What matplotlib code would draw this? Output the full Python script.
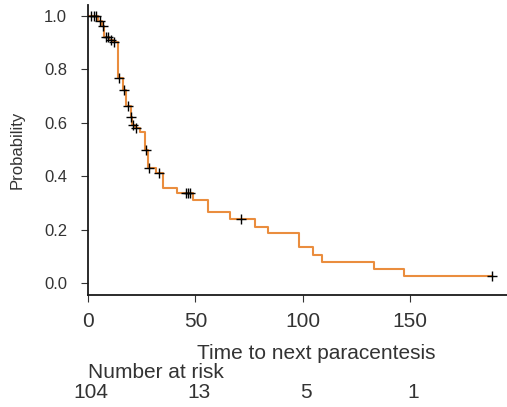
import numpy as np
import matplotlib
matplotlib.use("Agg")
import matplotlib.pyplot as plt
import matplotlib.transforms as mtransforms

plt.rcParams['font.family'] = ['Liberation Sans', 'DejaVu Sans']

# Kaplan-Meier steps (time where the curve drops, level after the drop)
step_times = [0, 4.8, 6.5, 7.6, 10.0, 11.5, 13.9, 16.2, 16.5, 17.9, 19.8, 20.6,
              22.0, 24.4, 26.6, 27.8, 31.7, 34.8, 41.5, 48.8, 55.8, 65.9, 77.9,
              83.7, 98.2, 104.6, 109.0, 132.9, 147.0, 188.1]
surv = [1.0, 0.98, 0.96, 0.92, 0.91, 0.90, 0.767, 0.746, 0.721, 0.662, 0.622, 0.59,
        0.581, 0.565, 0.497, 0.432, 0.413, 0.354, 0.338, 0.311, 0.264, 0.239, 0.211,
        0.186, 0.133, 0.106, 0.080, 0.052, 0.026, 0.026]

# censored observations
cens_t = [1.3, 2.6, 3.8, 5.4, 6.9, 8.3, 9.4, 10.6, 12.3, 14.6, 16.7, 18.6, 20.1,
          20.9, 22.5, 26.9, 28.6, 33.0, 45.7, 46.5, 47.7, 71.0, 188.1]
cens_s = [1.0, 1.0, 1.0, 0.98, 0.96, 0.92, 0.92, 0.91, 0.90, 0.767, 0.721, 0.662,
          0.622, 0.59, 0.581, 0.497, 0.432, 0.413, 0.338, 0.338, 0.338, 0.239, 0.026]

risk_t = [0, 50, 100, 150]
risk_n = ['104', '13', '5', '1']

txt = '#333333'

fig = plt.figure(figsize=(5.07, 4.07), dpi=100)
ax = fig.add_axes([88 / 507, 1 - 295 / 407, 1 - 88 / 507, (295 - 5) / 407])

ax.step(step_times, surv, where='post', color='#EA8D3E', lw=1.5, zorder=2)
ax.plot(cens_t, cens_s, ls='none', marker='+', color='black', ms=7, mew=1, zorder=3)

ax.set_xlim(0, 195)
ax.set_ylim(-0.045, 1.04)
ax.set_xticks([0, 50, 100, 150])
ax.set_yticks([0.0, 0.2, 0.4, 0.6, 0.8, 1.0])
ax.set_yticklabels(['0.0', '0.2', '0.4', '0.6', '0.8', '1.0'])
ax.tick_params(axis='x', labelsize=15, length=5, direction='out', pad=7, colors=txt)
ax.tick_params(axis='y', labelsize=12, length=5, direction='out', pad=10, colors=txt)
for s in ['top', 'right']:
    ax.spines[s].set_visible(False)
for s in ['left', 'bottom']:
    ax.spines[s].set_linewidth(1.3)
    ax.spines[s].set_color('#1a1a1a')

ax.set_ylabel('Probability', fontsize=12, color=txt, labelpad=14)
ax.set_xlabel('Time to next paracentesis', fontsize=15, color=txt)
ax.xaxis.set_label_coords(0.545, -0.17)

# number at risk table
tr = mtransforms.blended_transform_factory(ax.transData, fig.transFigure)
ax.text(0, 1 - 373 / 407, 'Number at risk', transform=tr, fontsize=15, color=txt,
        ha='left', va='center')
for t, n in zip(risk_t, risk_n):
    ax.text(t + 1.5, 1 - 393 / 407, n, transform=tr, fontsize=15, color=txt,
            ha='center', va='center')

fig.savefig('out.png', dpi=100)
